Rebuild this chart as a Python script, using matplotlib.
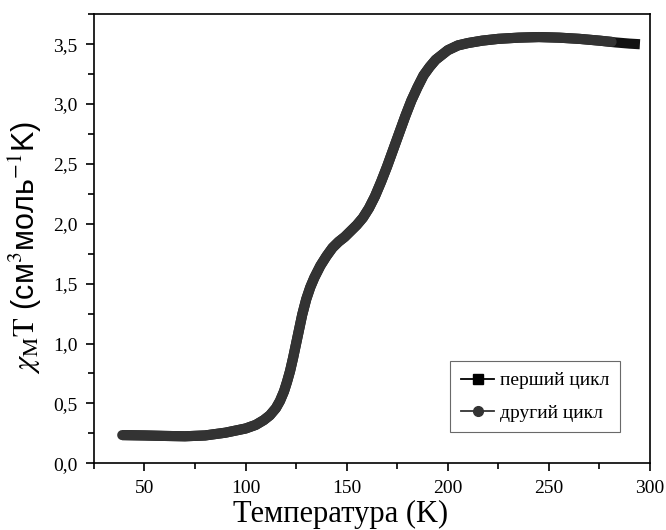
import matplotlib
matplotlib.use('Agg')
import matplotlib.pyplot as plt
from matplotlib.lines import Line2D
from matplotlib.ticker import FuncFormatter, MultipleLocator

plt.rcParams['mathtext.fontset'] = 'stix'

# first cycle (squares)
t1 = [39, 50, 60, 70, 80, 90, 100, 105, 109, 112, 115, 117, 119, 120.5, 122,
      123.5, 125, 126.5, 128, 130, 132, 134, 137, 140, 143, 146, 149, 152, 155,
      158, 161, 164, 167, 170, 173, 176, 179, 182, 185, 188, 191, 194, 197, 200,
      205, 210, 217, 225, 235, 245, 255, 265, 275, 283, 290, 295]
chi1 = [0.235, 0.232, 0.228, 0.225, 0.232, 0.255, 0.29, 0.32, 0.36, 0.40, 0.46,
        0.52, 0.60, 0.68, 0.77, 0.88, 1.00, 1.12, 1.24, 1.37, 1.47, 1.55, 1.65,
        1.73, 1.80, 1.85, 1.89, 1.94, 1.99, 2.05, 2.13, 2.23, 2.35, 2.48, 2.62,
        2.76, 2.90, 3.03, 3.14, 3.24, 3.31, 3.37, 3.41, 3.45, 3.49, 3.51, 3.53,
        3.545, 3.555, 3.56, 3.555, 3.545, 3.53, 3.515, 3.505, 3.50]

# second cycle (circles)
t2 = [39, 50, 60, 70, 80, 90, 100, 105, 109, 112, 115, 117, 119, 120.5, 122,
      123.5, 125, 126.5, 128, 130, 132, 134, 137, 140, 143, 146, 149, 152, 155,
      158, 161, 164, 167, 170, 173, 176, 179, 182, 185, 188, 191, 194, 197, 200,
      205, 210, 217, 225, 235, 245, 255, 265, 275, 281]
chi2 = [0.235, 0.232, 0.228, 0.225, 0.232, 0.255, 0.29, 0.32, 0.36, 0.40, 0.46,
        0.52, 0.60, 0.68, 0.77, 0.88, 1.00, 1.12, 1.24, 1.37, 1.47, 1.55, 1.65,
        1.73, 1.80, 1.85, 1.89, 1.94, 1.99, 2.05, 2.13, 2.23, 2.35, 2.48, 2.62,
        2.76, 2.90, 3.03, 3.14, 3.24, 3.31, 3.37, 3.41, 3.45, 3.49, 3.51, 3.53,
        3.545, 3.555, 3.56, 3.555, 3.545, 3.53, 3.52]

labels = ['перший цикл', 'другий цикл']

fig = plt.figure(figsize=(6.66, 5.30), dpi=100)
ax = fig.add_axes([0.141, 0.126, 0.835, 0.847])

ax.plot(t1, chi1, color='#111111', lw=7.3, solid_capstyle='butt', solid_joinstyle='round')
ax.plot(t2, chi2, color='#333333', lw=7.3, solid_capstyle='round', solid_joinstyle='round')

ax.set_xlim(25, 300)
ax.set_ylim(0, 3.75)
ax.xaxis.set_major_locator(MultipleLocator(50))
ax.xaxis.set_minor_locator(MultipleLocator(25))
ax.yaxis.set_major_locator(MultipleLocator(0.5))
ax.yaxis.set_minor_locator(MultipleLocator(0.25))
ax.yaxis.set_major_formatter(FuncFormatter(lambda v, p: f'{v:.1f}'.replace('.', ',')))

ax.tick_params(which='both', direction='out', top=False, right=False, width=1.2)
ax.tick_params(which='major', length=6, labelsize=14, pad=6)
ax.tick_params(which='minor', length=4)
for lab in ax.get_xticklabels() + ax.get_yticklabels():
    lab.set_family('Liberation Serif')
for s in ax.spines.values():
    s.set_linewidth(1.2)

ax.set_xlabel('Температура (K)', family='Liberation Serif', fontsize=22)
ax.xaxis.set_label_coords(0.444, -0.082)
ax.set_ylabel(r'$\chi_{\rm M}\mathrm{T}$ (см$^{3}$моль$^{-1}$K)',
              family='Liberation Sans', fontsize=22)
ax.yaxis.set_label_coords(-0.09, 0.48)

handles = [
    Line2D([], [], color='black', marker='s', ms=6.5, lw=1.3),
    Line2D([], [], color='#333333', marker='o', ms=7, lw=1.3),
]
leg = ax.legend(handles, labels, loc='lower right', bbox_to_anchor=(0.946, 0.069),
                prop={'family': 'Liberation Serif', 'size': 14},
                frameon=True, fancybox=False, handlelength=1.7, handletextpad=0.3,
                borderpad=0.55, labelspacing=0.75, borderaxespad=0)
leg.get_frame().set_edgecolor('#444444')
leg.get_frame().set_linewidth(0.8)

fig.savefig('out.png', dpi=100)
